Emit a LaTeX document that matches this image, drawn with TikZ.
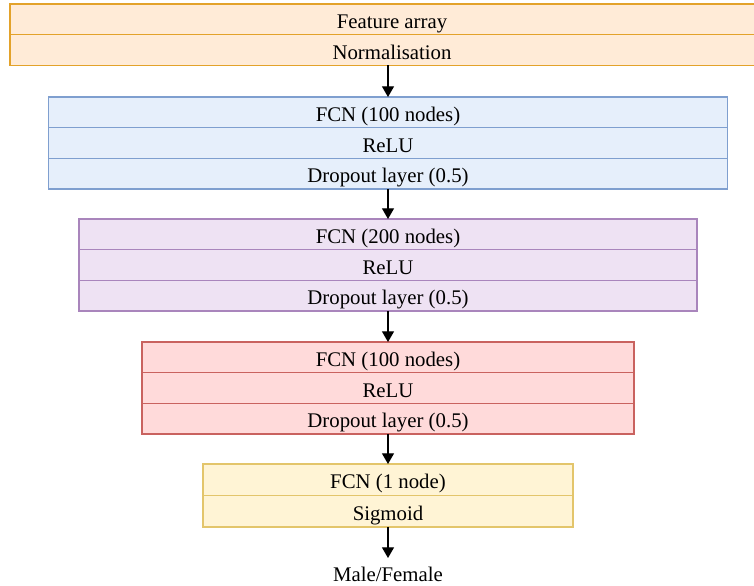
\documentclass[tikz,border=0pt]{standalone}
\usepackage{fontspec}
\setmainfont{Liberation Serif}
\usetikzlibrary{positioning, arrows.meta}

\definecolor{featfill}{HTML}{FFEBD7}
\definecolor{featline}{HTML}{E3A22A}
\definecolor{bluefill}{HTML}{E6EFFB}
\definecolor{blueline}{HTML}{7F9FCF}
\definecolor{purpfill}{HTML}{EEE2F3}
\definecolor{purpline}{HTML}{A985BC}
\definecolor{redfill}{HTML}{FFDADA}
\definecolor{redline}{HTML}{C9625F}
\definecolor{yelfill}{HTML}{FFF4D5}
\definecolor{yelline}{HTML}{E3C56B}

\tikzset{
    row/.style={draw, inner sep=0pt, outer sep=0pt, minimum height=23pt, text height=15.5pt, text depth=1.7pt},
    featrow/.style={row, fill=featfill, draw=featline, minimum width=573pt},
    bluerow/.style={row, fill=bluefill, draw=blueline, minimum width=509.25pt},
    purprow/.style={row, fill=purpfill, draw=purpline, minimum width=463.5pt},
    redrow/.style={row, fill=redfill, draw=redline, minimum width=369pt},
    yelrow/.style={row, fill=yelfill, draw=yelline, minimum width=277.5pt, minimum height=23.6pt}
}

\begin{document}
\begin{tikzpicture}[x=0.75pt, y=-0.75pt, line width=0.85pt, node distance=0pt,
        font=\fontsize{15.6}{19}\selectfont, >={Triangle[width=9pt, length=8pt]}]
    \useasboundingbox (0, 0) rectangle (754, 586);
    \clip (0, 0) rectangle (754, 586);

    % Input
    \node[featrow, anchor=north] (feat) at (392, 4) {Feature array};
    \node[featrow, below=of feat] (norm) {Normalisation};

    % Block 1
    \node[bluerow, anchor=north] (fcnA) at (388, 97) {FCN (100 nodes)};
    \node[bluerow, below=of fcnA] (reluA) {ReLU};
    \node[bluerow, below=of reluA] (dropA) {Dropout layer (0.5)};

    % Block 2
    \node[purprow, anchor=north] (fcnB) at (388, 219) {FCN (200 nodes)};
    \node[purprow, below=of fcnB] (reluB) {ReLU};
    \node[purprow, below=of reluB] (dropB) {Dropout layer (0.5)};

    % Block 3
    \node[redrow, anchor=north] (fcnC) at (388, 342) {FCN (100 nodes)};
    \node[redrow, below=of fcnC] (reluC) {ReLU};
    \node[redrow, below=of reluC] (dropC) {Dropout layer (0.5)};

    % Output
    \node[yelrow, anchor=north] (fcnD) at (388, 464) {FCN (1 node)};
    \node[yelrow, below=of fcnD] (sigm) {Sigmoid};
    \node[inner sep=0pt, text height=17.25pt, text depth=0pt, anchor=north] (sex) at (388, 558) {Male/Female};

    \draw[->] (fcnA.north |- norm.south) -- (fcnA.north);
    \draw[->] (dropA) -- (fcnB);
    \draw[->] (dropB) -- (fcnC);
    \draw[->] (dropC) -- (fcnD);
    \draw[->] (sigm) -- (sex);
\end{tikzpicture}
\end{document}
